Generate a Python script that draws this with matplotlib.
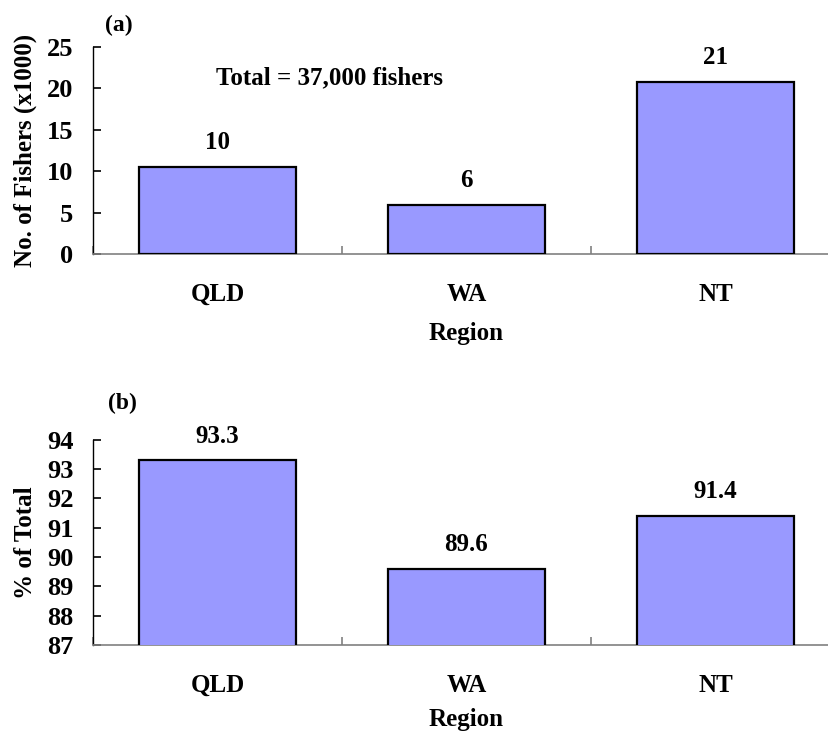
import matplotlib
matplotlib.use("Agg")
import matplotlib.pyplot as plt
import numpy as np

regions = ["QLD", "WA", "NT"]
fishers = [10.45, 5.9, 20.8]
fisher_labels = ["10", "6", "21"]
pct_total = [93.3, 89.6, 91.4]
pct_labels = ["93.3", "89.6", "91.4"]

plt.rcParams['font.family'] = ['Liberation Serif', 'DejaVu Serif']
plt.rcParams['font.weight'] = 'bold'

fig = plt.figure(figsize=(8.29, 7.35), dpi=100)
W, H = 829, 735
bar_color = '#9999FF'
FS = 18


def setup(ax, ymin, ymax, yticks):
    x = np.arange(len(regions))
    ax.set_xlim(-0.5, len(regions) - 0.5)
    ax.set_ylim(ymin, ymax)
    ax.spines['top'].set_visible(False)
    ax.spines['right'].set_visible(False)
    ax.spines['left'].set_linewidth(1.0)
    ax.spines['bottom'].set_color('#808080')
    ax.spines['bottom'].set_linewidth(1.2)
    ax.set_xticks(x)
    ax.set_xticklabels(regions, fontsize=FS, fontweight='bold')
    ax.set_xticks(np.arange(len(regions) + 1) - 0.5, minor=True)
    ax.tick_params(axis='x', which='major', length=0, pad=21)
    ax.tick_params(axis='x', which='minor', length=6, direction='in', color='#808080', width=1.2)
    ax.set_yticks(yticks)
    ax.set_yticklabels([str(t) for t in yticks], fontsize=FS + 1, fontweight='bold')
    ax.tick_params(axis='y', length=6, width=1.2, direction='in', pad=14)
    return x


# top panel
ax1 = fig.add_axes([93 / W, 1 - 254 / H, (840 - 93) / W, 207 / H])
x = setup(ax1, 0, 25, [0, 5, 10, 15, 20, 25])
ax1.bar(x, fishers, width=0.627, color=bar_color, edgecolor='black', linewidth=1.6, zorder=3)
for xi, v, lab in zip(x, fishers, fisher_labels):
    ax1.annotate(lab, (xi, v), xytext=(0, 9.5), textcoords='offset points',
                 ha='center', va='bottom', fontsize=FS, fontweight='bold')
ax1.text(0.45, 21.3, "Total = 37,000 fishers", ha='center', va='center', fontsize=FS, fontweight='bold')
ax1.set_xlabel("Region", fontsize=FS, fontweight='bold')
ax1.xaxis.set_label_coords(0.5, (254 - 322) / 207)
ax1.set_ylabel("No. of Fishers (x1000)", fontsize=FS, fontweight='bold')
ax1.yaxis.set_label_coords((37 - 93) / 747, 0.5)
fig.text(119 / W, 1 - 25 / H, "(a)", ha='center', va='center', fontsize=17, fontweight='bold')

# bottom panel
ax2 = fig.add_axes([93 / W, 1 - 645 / H, (840 - 93) / W, 205.3 / H])
x = setup(ax2, 87, 94, [87, 88, 89, 90, 91, 92, 93, 94])
ax2.bar(x, pct_total, bottom=0, width=0.627, color=bar_color, edgecolor='black', linewidth=1.6, zorder=3)
for xi, v, lab in zip(x, pct_total, pct_labels):
    ax2.annotate(lab, (xi, v), xytext=(0, 9), textcoords='offset points',
                 ha='center', va='bottom', fontsize=FS, fontweight='bold')
ax2.set_xlabel("Region", fontsize=FS, fontweight='bold')
ax2.xaxis.set_label_coords(0.5, (645 - 708) / 205.3)
ax2.set_ylabel("% of Total", fontsize=FS, fontweight='bold')
ax2.yaxis.set_label_coords((37 - 93) / 747, 0.5)
fig.text(122 / W, 1 - 403 / H, "(b)", ha='center', va='center', fontsize=17, fontweight='bold')

fig.savefig("out.png", dpi=100)
